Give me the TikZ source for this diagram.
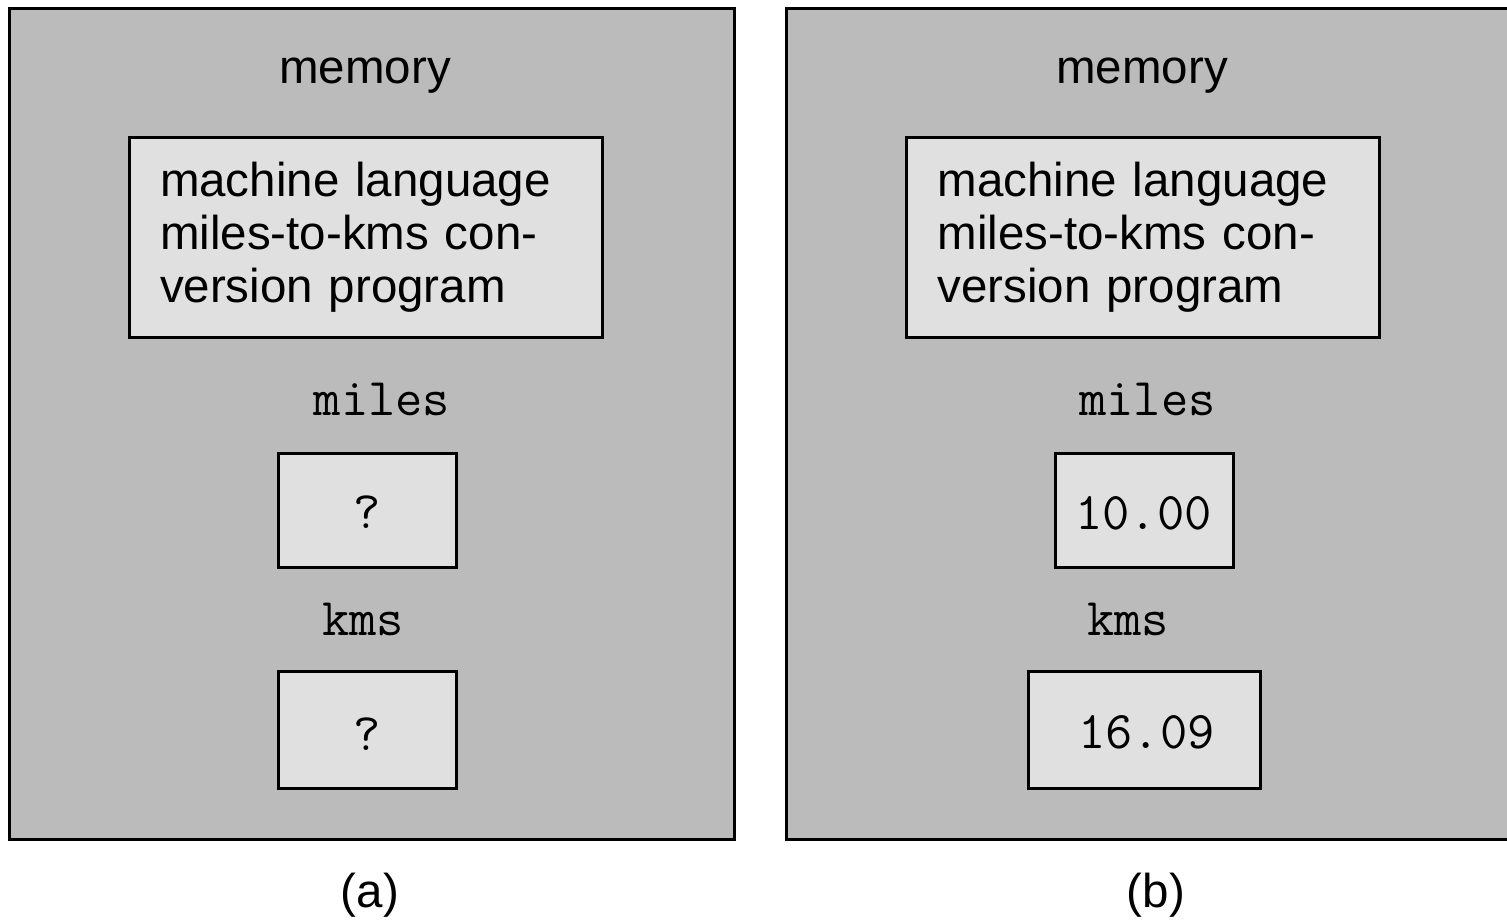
\documentclass[tikz,border=0pt]{standalone}
\usepackage{fontspec}
\setmainfont{Liberation Sans}
\begin{document}
\begin{tikzpicture}[x=1pt,y=-1pt,
  panel/.style={draw=black,line width=3pt,fill=panelgray,inner sep=0pt},
  cell/.style={draw=black,line width=3pt,fill=cellgray,inner sep=0pt},
  prog/.style={cell,minimum width=473pt,minimum height=200pt,text width=411pt,
               inner xsep=31pt,align=left,font=\fontsize{47.5}{53}\selectfont},
  lbl/.style={inner sep=0pt,font=\fontsize{47.5}{53}\selectfont},
  mono/.style={inner sep=0pt,font=\fontsize{53}{60}\ttfamily}]
\definecolor{panelgray}{gray}{0.735}
\definecolor{cellgray}{gray}{0.88}
\useasboundingbox (0,0) rectangle (1507,919);

% ---- panel (a): before input ----
\node[panel,minimum width=725pt,minimum height=831pt] (panA) at (371.5,423.5) {};
\node[lbl,anchor=base] (memA) at (365,83) {memory};
\node[prog] (progA) at (365.5,237) {machine language\\miles-to-kms con-\\version program};
\node[mono,anchor=base] (milesLA) at (382,415) {miles};
\node[cell,minimum width=178pt,minimum height=114pt] (milesA) at (367,510) {};
\node[mono,anchor=base] (milesVA) at (367,528) {?};
\node[mono,anchor=base] (kmsLA) at (363,635) {kms};
\node[cell,minimum width=178pt,minimum height=117pt] (kmsA) at (367,729.5) {};
\node[mono,anchor=base] (kmsVA) at (367,750) {?};
\node[lbl,anchor=base] (capA) at (370,907) {(a)};

% ---- panel (b): after the program has run ----
\node[panel,minimum width=727pt,minimum height=831pt] (panB) at (1149.5,423.5) {};
\node[lbl,anchor=base] (memB) at (1142,83) {memory};
\node[prog] (progB) at (1143,237) {machine language\\miles-to-kms con-\\version program};
\node[mono,anchor=base] (milesLB) at (1147.5,415) {miles};
\node[cell,minimum width=178pt,minimum height=114pt] (milesB) at (1144,510) {};
\node[mono,anchor=base] (milesVB) at (1143.5,529) {10.00};
\node[mono,anchor=base] (kmsLB) at (1128,635) {kms};
\node[cell,minimum width=232pt,minimum height=117pt] (kmsB) at (1144,729.5) {};
\node[mono,anchor=base] (kmsVB) at (1146.5,748) {16.09};
\node[lbl,anchor=base] (capB) at (1156,907) {(b)};
\end{tikzpicture}
\end{document}
